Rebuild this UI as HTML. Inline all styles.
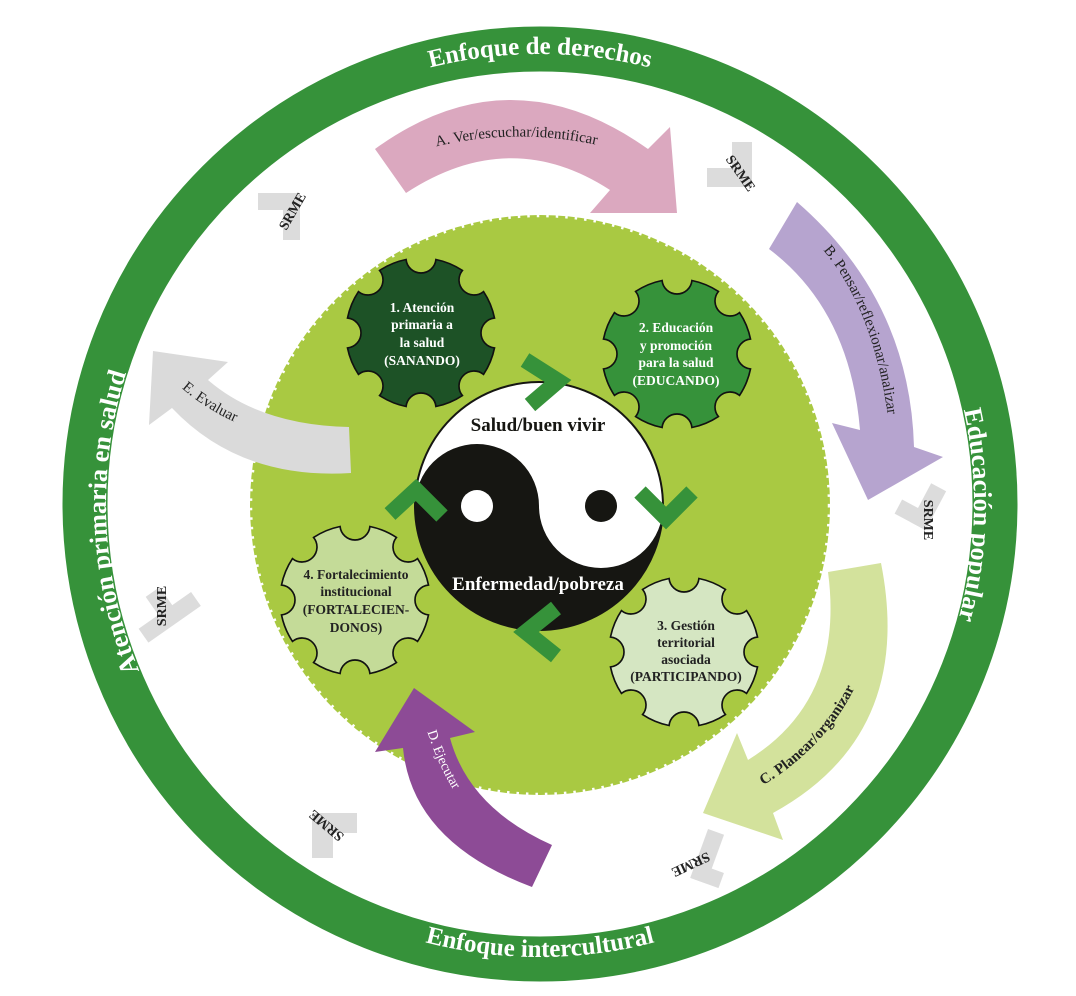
<!DOCTYPE html>
<html><head><meta charset="utf-8"><style>
html,body{margin:0;padding:0;background:#fff;}
svg{display:block;}
text{font-family:"Liberation Serif",serif;}
</style></head><body>
<svg width="1076" height="996" viewBox="0 0 1076 996" xmlns="http://www.w3.org/2000/svg">
<defs>
<path id="gear" d="M.98,.199 A1 1 0 0 1 .8337,.5522 A.2 .2 0 0 0 .5522,.8337 A1 1 0 0 1 .199,.98 A.2 .2 0 0 0 -.199,.98 A1 1 0 0 1 -.5522,.8337 A.2 .2 0 0 0 -.8337,.5522 A1 1 0 0 1 -.98,.199 A.2 .2 0 0 0 -.98,-.199 A1 1 0 0 1 -.8337,-.5522 A.2 .2 0 0 0 -.5522,-.8337 A1 1 0 0 1 -.199,-.98 A.2 .2 0 0 0 .199,-.98 A1 1 0 0 1 .5522,-.8337 A.2 .2 0 0 0 .8337,-.5522 A1 1 0 0 1 .98,-.199 A.2 .2 0 0 0 .98,.199 Z"/>
<path id="topPath" d="M540,954 A450 450 0 1 1 540,54 A450 450 0 1 1 540,954"/>
<path id="sidePath" d="M540,938 A434 434 0 1 1 540,70 A434 434 0 1 1 540,938"/>
<path id="botPath" d="M87,504 A453 453 0 0 0 993,504"/>
<path id="aPath" d="M423,150 Q515,124 610,148"/>
<path id="bPath" d="M810,236 Q876,300 890,434"/>
<path id="cPath" d="M752,792 Q830,748 860,676"/>
<path id="dPath" d="M424,720 Q436,765 460,800"/>
<path id="ePath" d="M176,383 Q205,410 242,425"/>
</defs>

<circle cx="540" cy="504" r="455" fill="none" stroke="#36923a" stroke-width="45"/>
<text font-size="25" font-weight="bold" fill="#fff" text-anchor="middle"><textPath href="#topPath" startOffset="50%">Enfoque de derechos</textPath></text>
<text font-size="26" font-weight="bold" fill="#fff" text-anchor="middle"><textPath href="#sidePath" startOffset="24.3%">Atención primaria en salud</textPath></text>
<text font-size="26" font-weight="bold" fill="#fff" text-anchor="middle"><textPath href="#sidePath" startOffset="75.4%">Educación popular</textPath></text>
<text font-size="25" font-weight="bold" fill="#fff" text-anchor="middle"><textPath href="#botPath" startOffset="50%">Enfoque intercultural</textPath></text>

<circle cx="540" cy="505" r="290" fill="#a9c942"/>
<circle cx="540" cy="505" r="289" fill="none" stroke="#fff" stroke-width="2.5" stroke-dasharray="2.5 7"/>

<path d="M375,149 Q510,51 648,149 L670,127 L677,213 L590,213 L610,190 Q510,125 406,193 Z" fill="#dba8bf"/>
<text font-size="15" fill="#222" text-anchor="middle"><textPath href="#aPath" startOffset="50%">A. Ver/escuchar/identificar</textPath></text>

<path d="M797,202 Q910,300 914,447 L943,457 L868,500 L832,423 L860,430 Q850,310 769,249 Z" fill="#b6a4cf"/>
<text font-size="15" fill="#222" text-anchor="middle"><textPath href="#bPath" startOffset="50%">B. Pensar/reflexionar/analizar</textPath></text>

<path d="M881,563 Q915,735 773,813 L783,840 L703,813 L737,733 L748,760 Q845,700 828,572 Z" fill="#d3e29c"/>
<text font-size="15" font-weight="bold" fill="#222" text-anchor="middle"><textPath href="#cPath" startOffset="50%">C. Planear/organizar</textPath></text>

<path d="M552,845 Q469,808 450,738 L475,732 L414,688 L375,752 L403,748 Q412,842 532,887 Z" fill="#8d4b96"/>
<text font-size="14" fill="#fff" text-anchor="middle"><textPath href="#dPath" startOffset="50%">D. Ejecutar</textPath></text>

<path d="M349,427 Q260,425 208,380 L228,362 L153,351 L149,425 L172,408 Q240,480 351,473 Z" fill="#dadada"/>
<text font-size="15" fill="#222" text-anchor="middle"><textPath href="#ePath" startOffset="50%">E. Evaluar</textPath></text>

<g fill="#dcdcdc">
<rect x="258" y="193" width="42" height="17"/><rect x="283" y="193" width="17" height="47"/>
<rect x="732" y="142" width="20" height="45"/><rect x="707" y="168" width="45" height="19"/>
<g transform="translate(926,510) rotate(28)"><rect x="-8" y="-26" width="17" height="44"/><rect x="-26" y="2" width="35" height="16"/></g>
<g transform="translate(706,858) rotate(20)"><rect x="-8" y="-28" width="17" height="52"/><rect x="-8" y="8" width="30" height="16"/></g>
<rect x="312" y="813" width="45" height="20"/><rect x="312" y="813" width="21" height="45"/>
<g transform="translate(166,612) rotate(-35)"><rect x="-32" y="-2" width="64" height="17"/><rect x="-8" y="-24" width="17" height="30"/></g>
</g>
<g font-size="14" font-weight="bold" fill="#222" text-anchor="middle">
<text transform="translate(292,211) rotate(-60)" y="5">SRME</text>
<text transform="translate(741,173) rotate(55)" y="5">SRME</text>
<text transform="translate(929,520) rotate(90)" y="5">SRME</text>
<text transform="translate(691,865) rotate(155)" y="5">SRME</text>
<text transform="translate(326,826) rotate(-140)" y="5">SRME</text>
<text transform="translate(161,606) rotate(-90)" y="5">SRME</text>
</g>

<circle cx="539" cy="506" r="124" fill="#fff" stroke="#161612" stroke-width="2"/>
<path d="M415,506 A62 62 0 0 1 539,506 A62 62 0 0 0 663,506 A124 124 0 0 1 415,506 Z" fill="#161612"/>
<circle cx="477" cy="506" r="16" fill="#fff"/>
<circle cx="601" cy="506" r="16" fill="#161612"/>
<text x="538" y="431" font-size="19" font-weight="bold" fill="#161612" text-anchor="middle">Salud/buen vivir</text>
<text x="538" y="590" font-size="19" font-weight="bold" fill="#fff" text-anchor="middle">Enfermedad/pobreza</text>

<g fill="none" stroke="#36923a" stroke-width="16" stroke-linejoin="miter">
<polyline points="525,360 558,381 530,405"/>
<polyline points="640,492 666,518 692,492"/>
<polyline points="556,608 526,632 556,656"/>
<polyline points="390,514 416,490 442,516"/>
</g>

<use href="#gear" transform="translate(421,333) scale(75)" fill="#1d5226" stroke="#111" stroke-width="0.022"/>
<use href="#gear" transform="translate(677,354) scale(75)" fill="#36923a" stroke="#111" stroke-width="0.022"/>
<use href="#gear" transform="translate(684,652) scale(75)" fill="#d5e6c2" stroke="#111" stroke-width="0.022"/>
<use href="#gear" transform="translate(355,600) scale(75)" fill="#c4db98" stroke="#111" stroke-width="0.022"/>

<g font-size="13.5" font-weight="bold" text-anchor="middle">
<g fill="#fff">
<text x="422" y="312">1. Atención</text>
<text x="422" y="329">primaria a</text>
<text x="422" y="347">la salud</text>
<text x="422" y="365">(SANANDO)</text>
<text x="676" y="332">2. Educación</text>
<text x="676" y="350">y promoción</text>
<text x="676" y="367">para la salud</text>
<text x="676" y="385">(EDUCANDO)</text>
</g>
<g fill="#222">
<text x="686" y="630">3. Gestión</text>
<text x="686" y="647">territorial</text>
<text x="686" y="664">asociada</text>
<text x="686" y="681">(PARTICIPANDO)</text>
<text x="356" y="579">4. Fortalecimiento</text>
<text x="356" y="596">institucional</text>
<text x="356" y="614">(FORTALECIEN-</text>
<text x="356" y="632">DONOS)</text>
</g>
</g>
</svg>
</body></html>
